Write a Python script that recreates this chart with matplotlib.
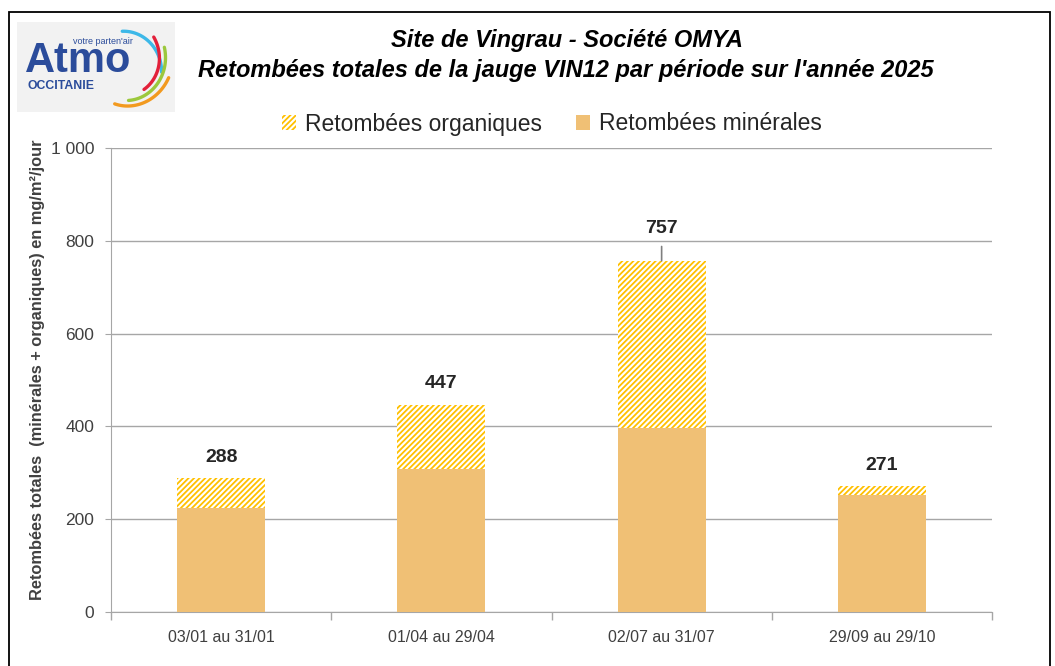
import matplotlib.pyplot as plt
import numpy as np
from matplotlib.patches import Patch, Rectangle

plt.rcParams['font.family'] = ['Liberation Sans', 'DejaVu Sans']
plt.rcParams['hatch.linewidth'] = 1.3

# data
periods = ['03/01 au 31/01', '01/04 au 29/04', '02/07 au 31/07', '29/09 au 29/10']
minerales = [224, 308, 396, 252]
organiques = [64, 139, 361, 19]
totaux = [288, 447, 757, 271]

col_min = '#F0C075'
col_org = '#FFC000'
grid_col = '#A6A6A6'
txt_col = '#404040'

fig = plt.figure(figsize=(10.55, 6.66), dpi=100)
ax = fig.add_axes([111/1055, 1 - 612/666, (992 - 111)/1055, (612 - 148)/666])

x = np.arange(len(periods))
ax.bar(x, minerales, width=0.4, color=col_min, linewidth=0, zorder=3)
ax.bar(x, organiques, width=0.4, bottom=minerales, color='white',
       edgecolor=col_org, hatch='//////', linewidth=0, zorder=3)

ax.set_ylim(0, 1000)
ax.set_xlim(-0.5, len(periods) - 0.5)
ax.set_yticks(range(0, 1001, 200))
ax.set_yticklabels(['0', '200', '400', '600', '800', '1 000'])
ax.set_xticks(x)
ax.set_xticklabels(periods)
ax.set_xticks(np.arange(-0.5, len(periods)), minor=True)
ax.tick_params(axis='x', which='major', length=0, labelsize=11.5, colors=txt_col, pad=13)
ax.tick_params(axis='x', which='minor', length=6, color=grid_col, width=1)
ax.tick_params(axis='y', length=4, color=grid_col, labelsize=12.5, labelcolor=txt_col, pad=8)
ax.grid(axis='y', color=grid_col, linewidth=1, zorder=0)
for s in ['top', 'right']:
    ax.spines[s].set_visible(False)
for s in ['left', 'bottom']:
    ax.spines[s].set_color(grid_col)

ax.set_ylabel('Retombées totales  (minérales + organiques) en mg/m²/jour',
              fontsize=11.8, fontweight='bold', color=txt_col)
ax.yaxis.set_label_coords(-0.075, 0.522)

# total labels
for i, t in enumerate(totaux):
    if t > 600:
        ax.annotate(str(t), xy=(i, t), xytext=(i, t + 70), ha='center', va='center',
                    fontsize=14, fontweight='bold', color='#262626',
                    arrowprops=dict(arrowstyle='-', color='#7F7F7F', lw=1.2,
                                    shrinkA=5, shrinkB=0))
    else:
        ax.text(i, t + 45, str(t), ha='center', va='center',
                fontsize=14, fontweight='bold', color='#262626')

# legend
handles = [Patch(facecolor='white', edgecolor=col_org, hatch='//////', linewidth=0),
           Patch(facecolor=col_min, linewidth=0)]
fig.legend(handles, ['Retombées organiques', 'Retombées minérales'],
           loc='center', bbox_to_anchor=(552/1055, 1 - 124/666), ncol=2,
           frameon=False, fontsize=16.5, handlelength=0.6, handleheight=0.6,
           handletextpad=0.4, columnspacing=1.5, labelcolor='#262626')

# titles
fig.text(567/1055, 1 - 40/666, 'Site de Vingrau - Société OMYA', ha='center', va='center',
         fontsize=17, fontweight='bold', fontstyle='italic', color='black')
fig.text(566/1055, 1 - 71/666, "Retombées totales de la jauge VIN12 par période sur l'année 2025",
         ha='center', va='center', fontsize=17, fontweight='bold', fontstyle='italic', color='black')

# outer frame
fig.patches.append(Rectangle((9/1055, -0.02), (1050 - 9)/1055, 1.02 - 12/666,
                             transform=fig.transFigure, fill=False, edgecolor='black',
                             linewidth=1.3))

# logo
lax = fig.add_axes([17/1055, 1 - 112/666, 158/1055, 90/666])
lax.set_xlim(17, 175)
lax.set_ylim(112, 22)
lax.axis('off')
lax.add_patch(Rectangle((17, 22), 158, 90, facecolor='#F2F2F2', edgecolor='none'))
blue = '#2B4C9B'
lax.text(25, 61, 'Atmo', fontsize=30, fontweight='bold', color=blue, va='center', ha='left')
lax.text(73, 42, "votre parten'air", fontsize=6.5, color=blue, va='center', ha='left')
lax.text(27, 86, 'OCCITANIE', fontsize=8.8, fontweight='bold', color=blue, va='center', ha='left')
# spiral-like arcs: (angle start, angle end, radius start, radius end)
for a1, a2, r1, r2, c in [(83, -8, 35, 44, '#3DB8E8'), (39, -42, 46, 35, '#E3203A'),
                          (22, -73, 50, 36, '#9CC83C'), (-13, -95, 52, 38, '#F29A1F')]:
    a = np.radians(np.linspace(a1, a2, 60))
    r = np.linspace(r1, r2, 60)
    lax.plot(118 + r*np.cos(a), 66 - r*np.sin(a), color=c, lw=2.4, solid_capstyle='round')

fig.savefig('out.png', dpi=100)
